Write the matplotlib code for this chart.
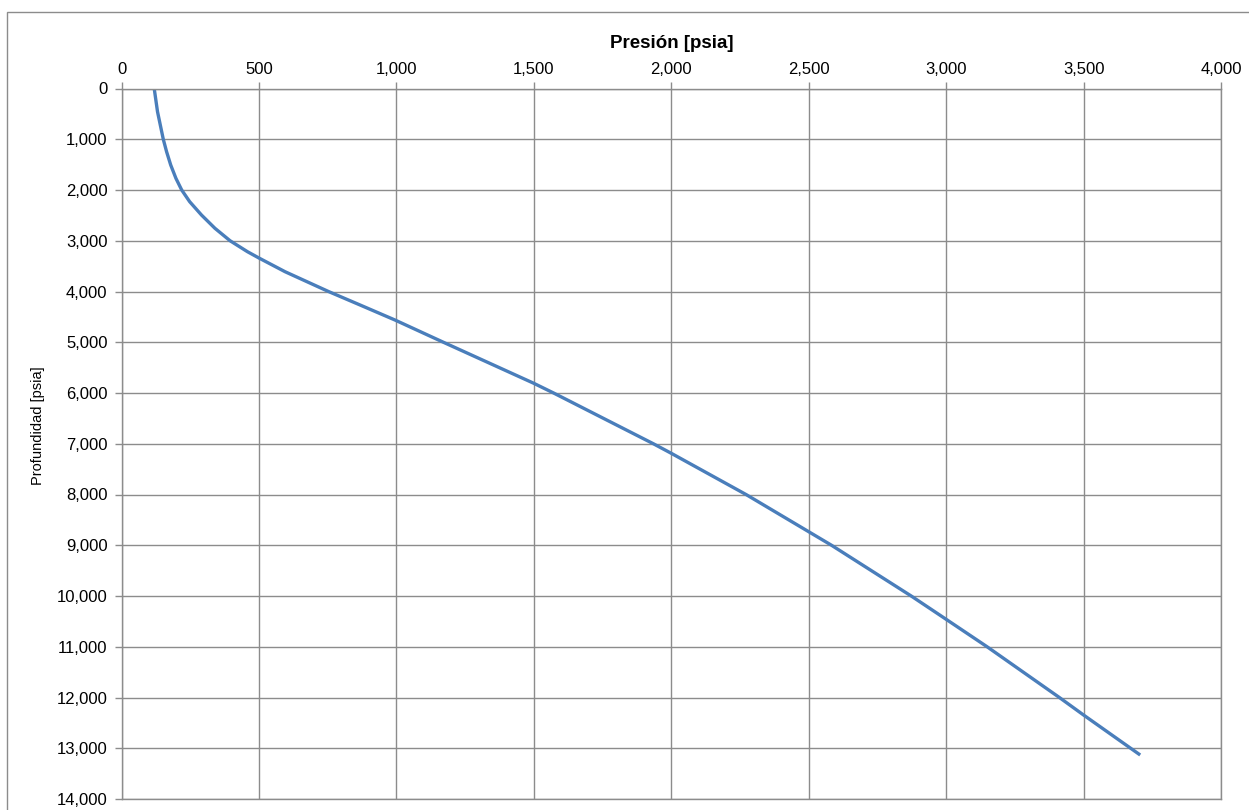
import matplotlib
matplotlib.use("Agg")
import matplotlib.pyplot as plt
from matplotlib.patches import Rectangle
from matplotlib.ticker import FuncFormatter, MultipleLocator

plt.rcParams['font.family'] = ['Liberation Sans', 'DejaVu Sans']

# Pressure traverse: depth [ft] vs pressure [psia]
depth = [0, 457, 1000, 1245, 1507, 1770, 2000, 2230, 2493, 2755, 3000,
         3215, 3340, 3610, 4000, 4266, 4562, 5000, 5809, 6000, 7000, 7188,
         8000, 8733, 9000, 10000, 10459, 11000, 12000, 12345, 13133]
pressure = [119, 131, 152, 164, 179, 198, 219, 248, 291, 340, 395,
            458, 500, 595, 753, 868, 995, 1171, 1500, 1572, 1935, 2000,
            2272, 2500, 2583, 2873, 3000, 3149, 3412, 3500, 3706]

W, H = 1249, 810
fig = plt.figure(figsize=(W / 100, H / 100), dpi=100)

# chart-area frame
fig.patches.append(Rectangle((7 / W, -0.1), 1.2, 1 - 12 / H + 0.1,
                             transform=fig.transFigure, fill=False,
                             edgecolor='#8c8c8c', linewidth=1.0))

left, right = 121.5 / W, 1221 / W
top, bottom = 1 - 88.5 / H, 1 - 799 / H
ax = fig.add_axes([left, bottom, right - left, top - bottom])

ax.plot(pressure, depth, color='#4a7ebb', linewidth=2.4,
        solid_capstyle='butt', solid_joinstyle='round')

ax.set_xlim(0, 4000)
ax.set_ylim(14000, 0)
ax.xaxis.set_major_locator(MultipleLocator(500))
ax.yaxis.set_major_locator(MultipleLocator(1000))
fmt = FuncFormatter(lambda v, p: f"{int(round(v)):,}")
ax.xaxis.set_major_formatter(fmt)
ax.yaxis.set_major_formatter(fmt)

ax.xaxis.tick_top()
ax.xaxis.set_label_position('top')
ax.tick_params(axis='both', direction='out', length=5, width=1,
               color='#8c8c8c', labelsize=12, labelcolor='black')
ax.tick_params(axis='x', pad=3)
ax.tick_params(axis='y', pad=5)

ax.grid(True, color='#8c8c8c', linewidth=1.0)
ax.set_axisbelow(True)
for s in ax.spines.values():
    s.set_color('#8c8c8c')
    s.set_linewidth(1.0)

ax.set_xlabel('Presión [psia]', fontsize=13.5, fontweight='bold')
ax.xaxis.set_label_coords(0.5, 1.0636)
ax.xaxis.label.set_verticalalignment('center')
ax.set_ylabel('Profundidad [psia]', fontsize=10.5)
ax.yaxis.set_label_coords(-0.076, 0.526)
ax.yaxis.label.set_verticalalignment('center')

fig.savefig('out.png', dpi=100)
